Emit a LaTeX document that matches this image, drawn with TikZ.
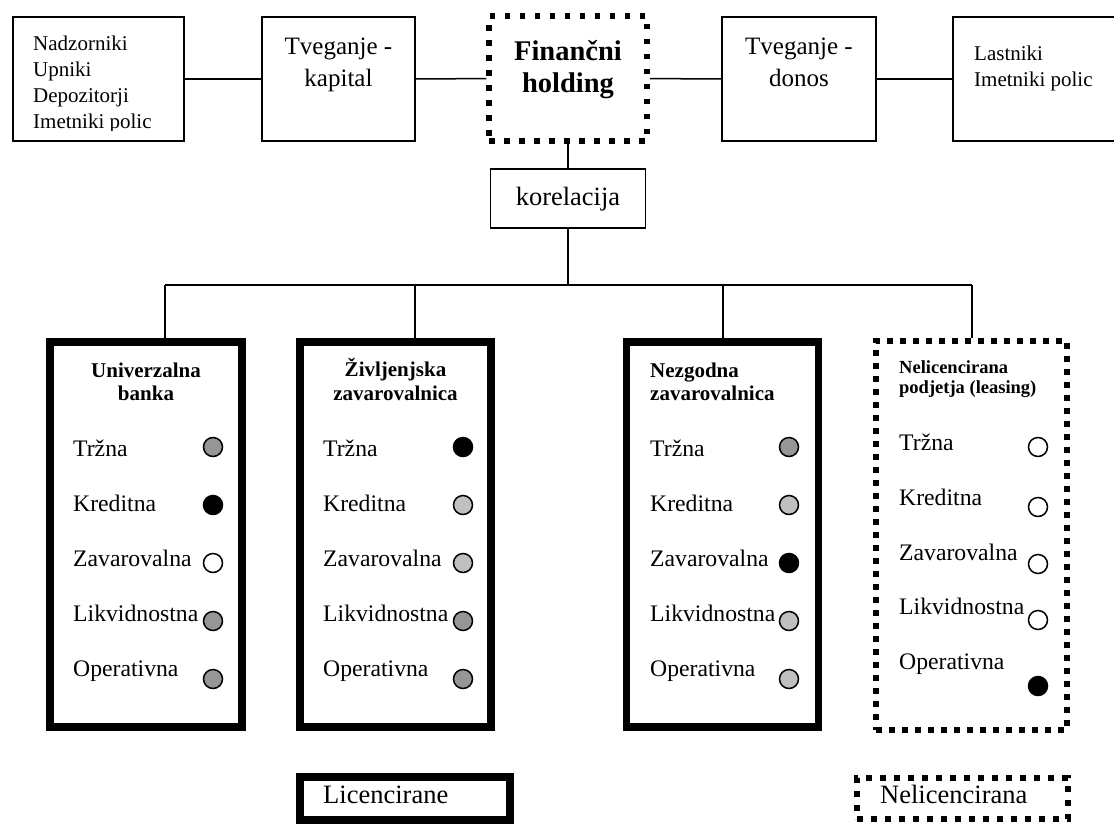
\documentclass[tikz,border=0pt]{standalone}
\usepackage{fontspec}
\setmainfont{Liberation Serif}
\definecolor{riskmid}{HTML}{969696}
\definecolor{risklight}{HTML}{C0C0C0}
\begin{document}
\begin{tikzpicture}[x=1pt,y=-1pt,
  thinbox/.style={draw, line width=1.5pt, inner sep=0pt},
  heavybox/.style={draw, line width=7.5pt, inner sep=0pt},
  dotbox/.style={draw, line width=6pt, dash pattern=on 6pt off 7pt, inner sep=0pt},
  link/.style={line width=1.5pt},
  small/.style={font=\fontsize{21}{24}\selectfont, inner sep=0pt, anchor=base west},
  big/.style={font=\fontsize{25}{28}\selectfont, inner sep=0pt, anchor=base},
  hold/.style={big, font=\bfseries\fontsize{28.5}{31}\selectfont},
  body/.style={font=\fontsize{23.7}{28}\selectfont, inner sep=0pt, anchor=base west},
  ttl/.style={font=\bfseries\fontsize{21}{23}\selectfont, inner sep=0pt, anchor=base},
  ttlw/.style={ttl, anchor=base west},
  dot/.style={circle, draw, line width=1.5pt, minimum size=19pt, inner sep=0pt},
  legend/.style={font=\fontsize{26.5}{30}\selectfont, inner sep=0pt, anchor=base west}]
\useasboundingbox (0,0) rectangle (1114,823);
\clip (0,0) rectangle (1114,823);

% ---------- top row ----------
\node[thinbox, minimum width=171pt, minimum height=124pt] (sup) at (98.5,79) {};
\node[thinbox, minimum width=153pt, minimum height=124pt] (tk) at (338.5,79) {};
\node[draw, line width=5.5pt, dash pattern=on 5.5pt off 9.5pt, inner sep=0pt,
      minimum width=158pt, minimum height=125pt] (fh) at (568,78.5) {};
\node[thinbox, minimum width=154pt, minimum height=124pt] (td) at (799,79) {};
\node[thinbox, minimum width=172pt, minimum height=124pt] (own) at (1039,79) {};

\begin{scope}
  \clip (13,17) rectangle (184,130);
  \node[small] (sup1) at (33,50) {Nadzorniki};
  \node[small] (sup2) at (33,76) {Upniki};
  \node[small] (sup3) at (33,102) {Depozitorji};
  \node[small] (sup4) at (33,128) {Imetniki polic};
\end{scope}

\node[big] (tk1) at (338.5,54) {Tveganje -};
\node[big] (tk2) at (338.5,86) {kapital};
\node[hold] (fh1) at (568,60) {Finančni};
\node[hold] (fh2) at (568,92) {holding};
\node[big] (td1) at (799,54) {Tveganje -};
\node[big] (td2) at (799,86) {donos};
\node[small] (own1) at (974,60) {Lastniki};
\node[small] (own2) at (974,86) {Imetniki polic};

\draw[link] (sup) -- (tk);
\draw[link] (tk) -- (fh);
\draw[link] (fh) -- (td);
\draw[link] (td) -- (own);

% ---------- correlation ----------
\node[thinbox, minimum width=155pt, minimum height=59pt] (kor) at (568,198.5) {};
\node[big, font=\fontsize{26.4}{29}\selectfont] (kort) at (568,205) {korelacija};
\draw[link] (fh.south) -- (kor.north);

\coordinate (bus) at (568,285);
\coordinate (j1) at (165,285);
\coordinate (j2) at (415,285);
\coordinate (j3) at (723,285);
\coordinate (j4) at (972,285);
\draw[link] (kor.south) -- (bus);
\draw[link] (j1) -- (j4);

% ---------- member companies ----------
\node[heavybox, minimum width=192pt, minimum height=385pt] (ub) at (146,534.5) {};
\node[heavybox, minimum width=191pt, minimum height=385pt] (zz) at (395.5,534.5) {};
\node[heavybox, minimum width=192pt, minimum height=385pt] (nz) at (722.5,534.5) {};
\node[dotbox, minimum width=191pt, minimum height=389pt] (nl) at (971.5,535.5) {};

\draw[link] (j1) -- (j1 |- ub.north);
\draw[link] (j2) -- (j2 |- zz.north);
\draw[link] (j3) -- (j3 |- nz.north);
\draw[link] (j4) -- (j4 |- nl.north);

% titles
\node[ttl] (ubh1) at (146,377) {Univerzalna};
\node[ttl] (ubh2) at (146,400) {banka};
\node[ttl] (zzh1) at (395.5,376) {Življenjska};
\node[ttl] (zzh2) at (395.5,400) {zavarovalnica};
\node[ttlw] (nzh1) at (650,377) {Nezgodna};
\node[ttlw] (nzh2) at (650,400) {zavarovalnica};
\node[ttlw, font=\bfseries\fontsize{18.5}{20}\selectfont] (nlh1) at (899,373) {Nelicencirana};
\node[ttlw, font=\bfseries\fontsize{18.5}{20}\selectfont] (nlh2) at (899,393) {podjetja (leasing)};

% risk labels
\foreach \bx/\lx in {ub/73, zz/323, nz/650} {
  \node[body] (\bx-r1) at (\lx,456) {Tržna};
  \node[body] (\bx-r2) at (\lx,511) {Kreditna};
  \node[body] (\bx-r3) at (\lx,566) {Zavarovalna};
  \node[body] (\bx-r4) at (\lx,621) {Likvidnostna};
  \node[body] (\bx-r5) at (\lx,676) {Operativna};
}
\node[body] (nl-r1) at (899,450) {Tržna};
\node[body] (nl-r2) at (899,505) {Kreditna};
\node[body] (nl-r3) at (899,560) {Zavarovalna};
\node[body] (nl-r4) at (899,614) {Likvidnostna};
\node[body] (nl-r5) at (899,669) {Operativna};

% risk markers
\node[dot, fill=riskmid]   (ub-c1) at (213,447) {};
\node[dot, fill=black]     (ub-c2) at (213,505) {};
\node[dot, fill=white]     (ub-c3) at (213,563) {};
\node[dot, fill=riskmid]   (ub-c4) at (213,621) {};
\node[dot, fill=riskmid]   (ub-c5) at (213,679) {};

\node[dot, fill=black]     (zz-c1) at (463,447) {};
\node[dot, fill=risklight] (zz-c2) at (463,505) {};
\node[dot, fill=risklight] (zz-c3) at (463,563) {};
\node[dot, fill=riskmid]   (zz-c4) at (463,621) {};
\node[dot, fill=riskmid]   (zz-c5) at (463,679) {};

\node[dot, fill=riskmid]   (nz-c1) at (789,447) {};
\node[dot, fill=risklight] (nz-c2) at (789,505) {};
\node[dot, fill=black]     (nz-c3) at (789,563) {};
\node[dot, fill=risklight] (nz-c4) at (789,621) {};
\node[dot, fill=risklight] (nz-c5) at (789,679) {};

\node[dot, fill=white]     (nl-c1) at (1038,447) {};
\node[dot, fill=white]     (nl-c2) at (1038,507) {};
\node[dot, fill=white]     (nl-c3) at (1038,564) {};
\node[dot, fill=white]     (nl-c4) at (1038,620) {};
\node[dot, fill=black]     (nl-c5) at (1038,686) {};

% ---------- legend ----------
\node[heavybox, minimum width=210pt, minimum height=43pt] (lic) at (405,798.5) {};
\node[legend] (lict) at (323,803) {Licencirane};
\node[dotbox, dash pattern=on 6pt off 8pt, minimum width=211pt, minimum height=41pt] (nlic) at (962.5,798.5) {};
\node[legend] (nlict) at (880,803) {Nelicencirana};
\end{tikzpicture}
\end{document}
